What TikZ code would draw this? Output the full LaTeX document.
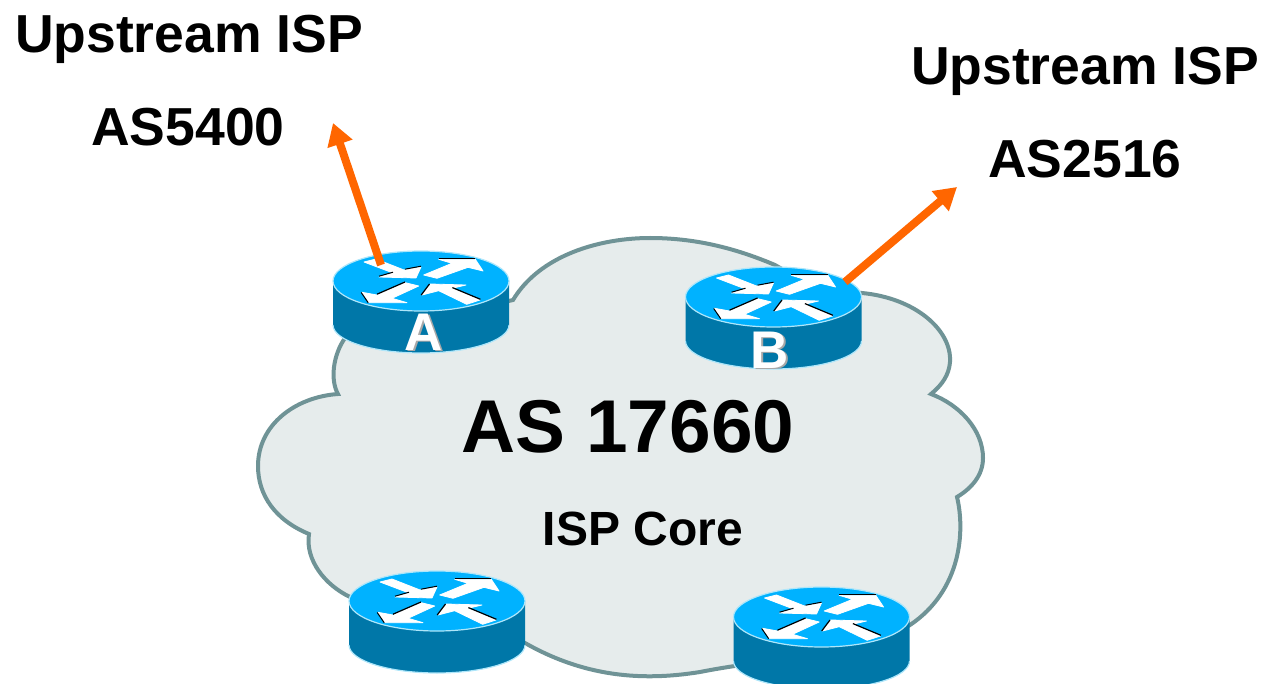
\documentclass[tikz,border=0pt]{standalone}
\usepackage{fontspec}
\setmainfont{Liberation Sans}
\usetikzlibrary{arrows.meta}
\definecolor{cloudfill}{HTML}{E6ECEC}
\definecolor{cloudline}{HTML}{6F9396}
\definecolor{rtop}{HTML}{00B2FF}
\definecolor{rside}{HTML}{0077A8}
\definecolor{rrim}{HTML}{AEE6FA}
\definecolor{linkorange}{HTML}{FF6600}
\definecolor{labelshade}{HTML}{A8A8A8}
\tikzset{
  title/.style={anchor=base,inner sep=0pt,font=\fontsize{53.5}{53.5}\bfseries\selectfont},
  bigtitle/.style={anchor=base,inner sep=0pt,font=\fontsize{74.8}{74.8}\bfseries\selectfont},
  coretitle/.style={anchor=base,inner sep=0pt,font=\fontsize{48}{48}\bfseries\selectfont},
  rlabel/.style={anchor=base,inner sep=0pt,text=white,font=\fontsize{53}{53}\bfseries\selectfont},
  rshade/.style={anchor=base,inner sep=0pt,text=labelshade,font=\fontsize{53}{53}\bfseries\selectfont},
  uplink/.style={draw=linkorange,line width=8pt,-{Triangle[length=22pt,width=25pt]}},
  arrowwhite/.style={fill=white,draw=white,line width=0.8pt,line join=round},
  router/.pic={
    \fill[rside] (-88,0) -- (-88,44) arc[start angle=180,end angle=360,x radius=88pt,y radius=28pt] -- (88,0) -- cycle;
    \draw[rrim,line width=1.2pt] (-88,44) arc[start angle=180,end angle=360,x radius=88pt,y radius=28pt];
    \draw[fill=rtop,draw=rrim,line width=1.2pt] (0,0) ellipse[x radius=88pt,y radius=30pt];
    \path[arrowwhite] (-57,-19) -- (-45,-22) -- (-17,-11) -- (0,-14) -- (-5,-3) -- (-42,-4) -- (-28,-8) -- cycle;
    \path[arrowwhite] (2.7,-6) -- (16,-2.7) -- (47,-13.7) -- (62,-10) -- (54.3,-21.7) -- (17.7,-21.7) -- (31,-17.7) -- cycle;
    \path[arrowwhite] (-2.3,5) -- (-15.7,1.7) -- (-44,14) -- (-59,11.3) -- (-52,21.7) -- (-14,21.7) -- (-29,17.3) -- cycle;
    \path[arrowwhite] (1,14) -- (9.3,3) -- (45,4) -- (31,7.3) -- (59,19) -- (45.7,23.3) -- (17.7,9.7) -- cycle;
    \draw[black,line width=1pt] (-16,-11.8) -- (0,-14.8);
    \draw[black,line width=1pt] (-42,-4.8) -- (-28,-8.8);
    \draw[black,line width=1.2pt] (17.7,-22.5) -- (54.3,-22.5);
    \draw[black,line width=1.2pt] (-16,1) -- (-44,13.2);
    \draw[black,line width=1pt] (-59.8,11.5) -- (-52.8,21.7);
    \draw[black,line width=1.2pt] (0.2,14) -- (8.5,3);
    \draw[black,line width=1.2pt] (31.4,6.6) -- (59.4,18.3);
  }
}
\begin{document}
\begin{tikzpicture}[x=1pt,y=-1pt]
\useasboundingbox (0,0) rectangle (1263,684);
% cloud
\draw[fill=cloudfill,draw=cloudline,line width=4pt,miter limit=4]
  (513,300) .. controls (540,255) and (600,238) .. (650,238)
  .. controls (695,238) and (735,248) .. (775,265)
  .. controls (800,280) and (830,290) .. (862,293)
  .. controls (915,298) and (952,330) .. (950,362)
  .. controls (949,375) and (942,385) .. (931,394)
  .. controls (960,405) and (983,430) .. (983,458)
  .. controls (983,475) and (972,488) .. (957,497)
  .. controls (965,530) and (962,590) .. (910,625)
  .. controls (860,655) and (770,658) .. (700,672)
  .. controls (650,680) and (590,680) .. (525,643)
  .. controls (470,625) and (400,625) .. (350,597)
  .. controls (325,585) and (305,560) .. (309,534)
  .. controls (275,520) and (258,495) .. (258,466)
  .. controls (258,425) and (295,397) .. (338,394)
  .. controls (330,380) and (333,355) .. (345,338)
  -- cycle;
% routers
\pic at (421,281) {router};
\pic at (773.5,297) {router};
\pic at (437,601) {router};
\pic at (821.5,617) {router};
\coordinate (linkA) at (381,265);
\coordinate (farA) at (333,123);
\coordinate (linkB) at (845,282);
\coordinate (farB) at (957,187);
\draw[uplink] (linkA) -- (farA);
\draw[uplink] (linkB) -- (farB);
% labels
\node[rshade] (shA) at (426,352) {A};
\node[rlabel] (lblA) at (424,351) {A};
\node[rshade] (shB) at (772,369) {B};
\node[rlabel] (lblB) at (770,368) {B};
\node[title] (u1) at (189,53) {Upstream ISP};
\node[title] (as1) at (188,146) {AS5400};
\node[title] (u2) at (1085,85) {Upstream ISP};
\node[title] (as2) at (1085,178) {AS2516};
\node[bigtitle] (core) at (628,452) {AS 17660};
\node[coretitle] (isp) at (643,545) {ISP Core};
\end{tikzpicture}
\end{document}
